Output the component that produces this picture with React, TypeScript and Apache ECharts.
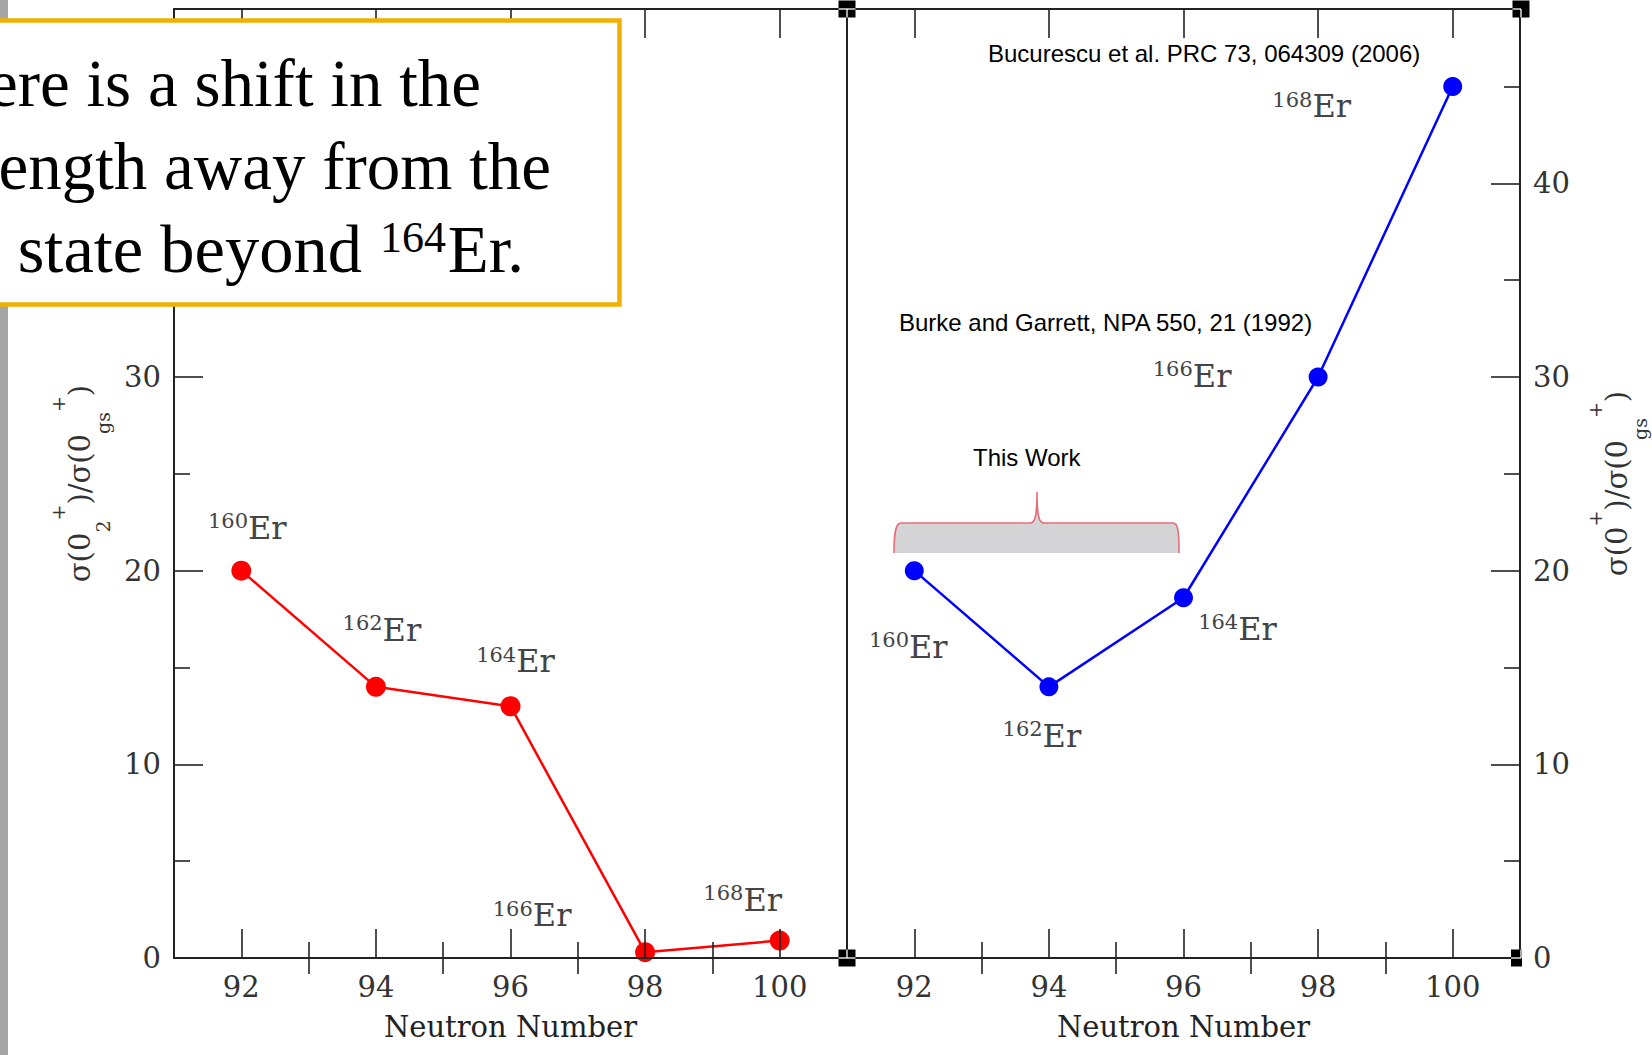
import React, { useEffect, useRef } from "react";
import * as echarts from "echarts";

// Er isotopes, Z = 68
const neutronNumbers = [92, 94, 96, 98, 100];
const massNumbers = ["160", "162", "164", "166", "168"];
// σ(0₂⁺)/σ(0gs⁺)
const ratioSecondState = [20, 14, 13, 0.3, 0.9];
// σ(0⁺)/σ(0gs⁺)
const ratioAllStates = [20, 14, 18.6, 30, 45];

const xMajorTicks = [92, 94, 96, 98, 100];
const xMinorTicks = [93, 95, 97, 99];
const yMajorTicks = [0, 10, 20, 30, 40];
const yMinorTicks = [5, 15, 25, 35, 45];
// the note box covers the upper left labels
const leftYLabels = [0, 10, 20, 30];
const rightYLabels = [0, 10, 20, 30, 40];

const xTitle = "Neutron Number";
const leftYTitle = "{n|σ(0}{sub|2}{sup|+}{n|)/σ(0}{sub|gs}{sup|+}{n|)}";
const rightYTitle = "{n|σ(0}{sup|+}{n|)/σ(0}{sub|gs}{sup|+}{n|)}";

const refBucurescu = "Bucurescu et al. PRC 73, 064309 (2006)";
const refBurke = "Burke and Garrett, NPA 550, 21 (1992)";
const thisWork = "This Work";
const noteLines = ["There is a shift in the", "strength away from the", "state beyond"];
const noteSup = "164";
const noteEnd = "Er.";

// label offsets (px) of each isotope name from its marker
const leftLabelOffsets = [[6, -43], [6, -57], [5, -45], [-113, -37], [-37, -41]];
const rightLabelOffsets = [[-6, 76], [-7, 49], [54, 31], [-126, -1], [-141, 20]];

const AXIS_COLOR = "#222";
const TEXT_COLOR = "#333";
const SERIF = "DejaVu Serif";

// curly bracket over the measured points
const braceFillPath =
  "M894 553 C894 531 896 523 901 523 L1030 523 C1035 523 1037 516 1037 492 C1037 516 1039 523 1044 523 L1173 523 C1178 523 1179 531 1179 553 Z";
const braceEdgePath =
  "M894 553 C894 531 896 523 901 523 L1030 523 C1035 523 1037 516 1037 492 C1037 516 1039 523 1044 523 L1173 523 C1178 523 1179 531 1179 553";
echarts.graphic.registerShape("braceFill", echarts.graphic.extendPath(braceFillPath, {}));
echarts.graphic.registerShape("braceEdge", echarts.graphic.extendPath(braceEdgePath, {}));

const tickLine = { color: AXIS_COLOR, width: 1.6 };
const axisLine = { show: true, onZero: false, lineStyle: { color: AXIS_COLOR, width: 2 } };
const tickLabel = { fontFamily: SERIF, fontSize: 29, color: TEXT_COLOR };

const nameRich = {
  n: { fontFamily: SERIF, fontSize: 29, lineHeight: 64, color: TEXT_COLOR },
  sub: { fontFamily: SERIF, fontSize: 19, lineHeight: 19, verticalAlign: "bottom", color: TEXT_COLOR },
  sup: { fontFamily: SERIF, fontSize: 19, lineHeight: 19, verticalAlign: "top", color: TEXT_COLOR },
};

const isoRich = {
  s: { fontFamily: SERIF, fontSize: 21, lineHeight: 24, verticalAlign: "top", color: "#444" },
  n: { fontFamily: SERIF, fontSize: 32, lineHeight: 34, color: "#444" },
};

function xAxes(gridIndex: number) {
  const base = { type: "value", gridIndex, min: 91, max: 101, splitLine: { show: false }, z: 3 };
  return [
    {
      ...base,
      position: "bottom",
      axisLine,
      axisTick: { show: true, inside: true, length: 29, customValues: xMajorTicks, lineStyle: tickLine },
      axisLabel: { show: true, customValues: xMajorTicks, margin: 14, ...tickLabel },
      name: xTitle,
      nameLocation: "middle",
      nameGap: 54,
      nameTextStyle: { fontFamily: SERIF, fontSize: 29, color: "#222" },
    },
    {
      ...base,
      position: "bottom",
      axisLine: { show: false },
      axisTick: { show: true, inside: true, length: 16, customValues: xMinorTicks, lineStyle: tickLine },
      axisLabel: { show: false },
    },
    {
      ...base,
      position: "top",
      axisLine,
      axisTick: { show: true, inside: true, length: 29, customValues: xMajorTicks, lineStyle: tickLine },
      axisLabel: { show: false },
    },
    {
      ...base,
      position: "top",
      axisLine: { show: false },
      axisTick: { show: true, inside: true, length: 16, customValues: xMinorTicks, lineStyle: tickLine },
      axisLabel: { show: false },
    },
  ];
}

function yAxes(gridIndex: number, position: string, title: string, gap: number, labels: number[]) {
  const base = { type: "value", gridIndex, min: 0, max: 49, position, splitLine: { show: false }, z: 3 };
  return [
    {
      ...base,
      axisLine,
      axisTick: { show: true, inside: true, length: 29, customValues: yMajorTicks, lineStyle: tickLine },
      axisLabel: { show: true, customValues: labels, margin: 13, ...tickLabel },
      name: title,
      nameLocation: "middle",
      nameGap: gap,
      nameTextStyle: { fontFamily: SERIF, fontSize: 29, color: TEXT_COLOR, rich: nameRich },
    },
    {
      ...base,
      axisLine: { show: false },
      axisTick: { show: true, inside: true, length: 16, customValues: yMinorTicks, lineStyle: tickLine },
      axisLabel: { show: false },
    },
  ];
}

function isotopeSeries(
  values: number[],
  offsets: number[][],
  color: string,
  size: number,
  xAxisIndex: number,
  yAxisIndex: number
) {
  return {
    type: "line",
    xAxisIndex,
    yAxisIndex,
    symbol: "circle",
    symbolSize: size,
    lineStyle: { color, width: 2.5 },
    itemStyle: { color },
    z: 2,
    data: neutronNumbers.map((n, i) => ({
      value: [n, values[i]],
      label: { offset: offsets[i] },
    })),
    label: {
      show: true,
      position: "inside",
      align: "center",
      verticalAlign: "middle",
      color: "#444",
      textBorderWidth: 0,
      textBorderColor: "transparent",
      formatter: (p: any) => `{s|${massNumbers[p.dataIndex]}}{n|Er}`,
      rich: isoRich,
    },
  };
}

function cornerHandle(cx: number, cy: number, w: number, h: number) {
  return {
    type: "rect",
    z: 90,
    shape: { x: cx - w / 2, y: cy - h / 2, width: w, height: h },
    style: { fill: "#000" },
  };
}

function noteText(text: string, x: number, y: number, size: number) {
  return {
    type: "text",
    x,
    y,
    z: 81,
    style: {
      text,
      fontFamily: "Liberation Serif",
      fontSize: size,
      fill: "#000",
      textAlign: "right",
      textVerticalAlign: "middle",
    },
  };
}

function refText(text: string, x: number, y: number) {
  return {
    type: "text",
    x,
    y,
    z: 70,
    style: {
      text,
      fontFamily: "Liberation Sans",
      fontSize: 24,
      fill: "#000",
      textAlign: "left",
      textVerticalAlign: "middle",
    },
  };
}

export default function App() {
  const ref = useRef<HTMLDivElement>(null);

  useEffect(() => {
    document.body.style.margin = "0";
    if (!ref.current) return;
    const chart = echarts.init(ref.current, null, { renderer: "svg" });

    // frame lines crossing the black corner handles show up white
    const whiteLine = (x1: number, y1: number, x2: number, y2: number) => ({
      type: "line",
      z: 91,
      shape: { x1, y1, x2, y2 },
      style: { stroke: "#fff", lineWidth: 1.3 },
    });

    const option: any = {
      animation: false,
      backgroundColor: "#fff",
      grid: [
        { left: 174, top: 9, width: 673, height: 949, containLabel: false, outerBoundsMode: "none" },
        { left: 847, top: 9, width: 673, height: 949, containLabel: false, outerBoundsMode: "none" },
      ],
      xAxis: [...xAxes(0), ...xAxes(1)],
      yAxis: [
        ...yAxes(0, "left", leftYTitle, 62, leftYLabels),
        ...yAxes(1, "right", rightYTitle, 65, rightYLabels),
        {
          type: "value",
          gridIndex: 1,
          position: "left",
          min: 0,
          max: 49,
          axisLine,
          axisTick: { show: false },
          axisLabel: { show: false },
          splitLine: { show: false },
        },
      ],
      series: [
        isotopeSeries(ratioSecondState, leftLabelOffsets, "#ff0000", 20, 0, 0),
        isotopeSeries(ratioAllStates, rightLabelOffsets, "#0000ff", 19, 4, 2),
      ],
      graphic: {
        elements: [
          { type: "rect", z: 50, shape: { x: 0, y: 0, width: 8, height: 1055 }, style: { fill: "#a5a5a5" } },
          {
            type: "rect",
            z: 80,
            shape: { x: -20, y: 20.5, width: 639.5, height: 284 },
            style: { fill: "#fff", stroke: "#f0b000", lineWidth: 4.5 },
          },
          noteText(noteLines[0], 481, 83, 67),
          noteText(noteLines[1], 551, 166, 67),
          noteText(noteLines[2], 362, 249, 68.5),
          noteText(noteSup, 446, 237, 44),
          noteText(noteEnd, 524, 249, 67),
          { type: "braceFill", z: 40, x: 0, y: 0, scaleX: 1, scaleY: 1, style: { fill: "#d4d4d6", stroke: "none" } },
          {
            type: "braceEdge",
            z: 41,
            x: 0,
            y: 0,
            scaleX: 1,
            scaleY: 1,
            style: { fill: "none", stroke: "#e56d79", lineWidth: 1.6 },
          },
          refText(refBucurescu, 988, 53),
          refText(refBurke, 899, 322),
          refText(thisWork, 973, 457),
          cornerHandle(847, 9, 17, 17),
          whiteLine(838.5, 9, 855.5, 9),
          whiteLine(847, 9, 847, 17.5),
          cornerHandle(847, 958, 17, 17),
          whiteLine(838.5, 958, 855.5, 958),
          whiteLine(847, 949.5, 847, 958),
          cornerHandle(1521, 9, 17, 17),
          whiteLine(1512.5, 9, 1521, 9),
          whiteLine(1521, 9, 1521, 17.5),
          cornerHandle(1516.5, 958, 11, 17),
          whiteLine(1511, 958, 1521, 958),
          whiteLine(1521, 949.5, 1521, 958),
        ],
      },
    };

    chart.setOption(option);
    return () => chart.dispose();
  }, []);

  return <div ref={ref} style={{ width: 1652, height: 1055 }} />;
}
